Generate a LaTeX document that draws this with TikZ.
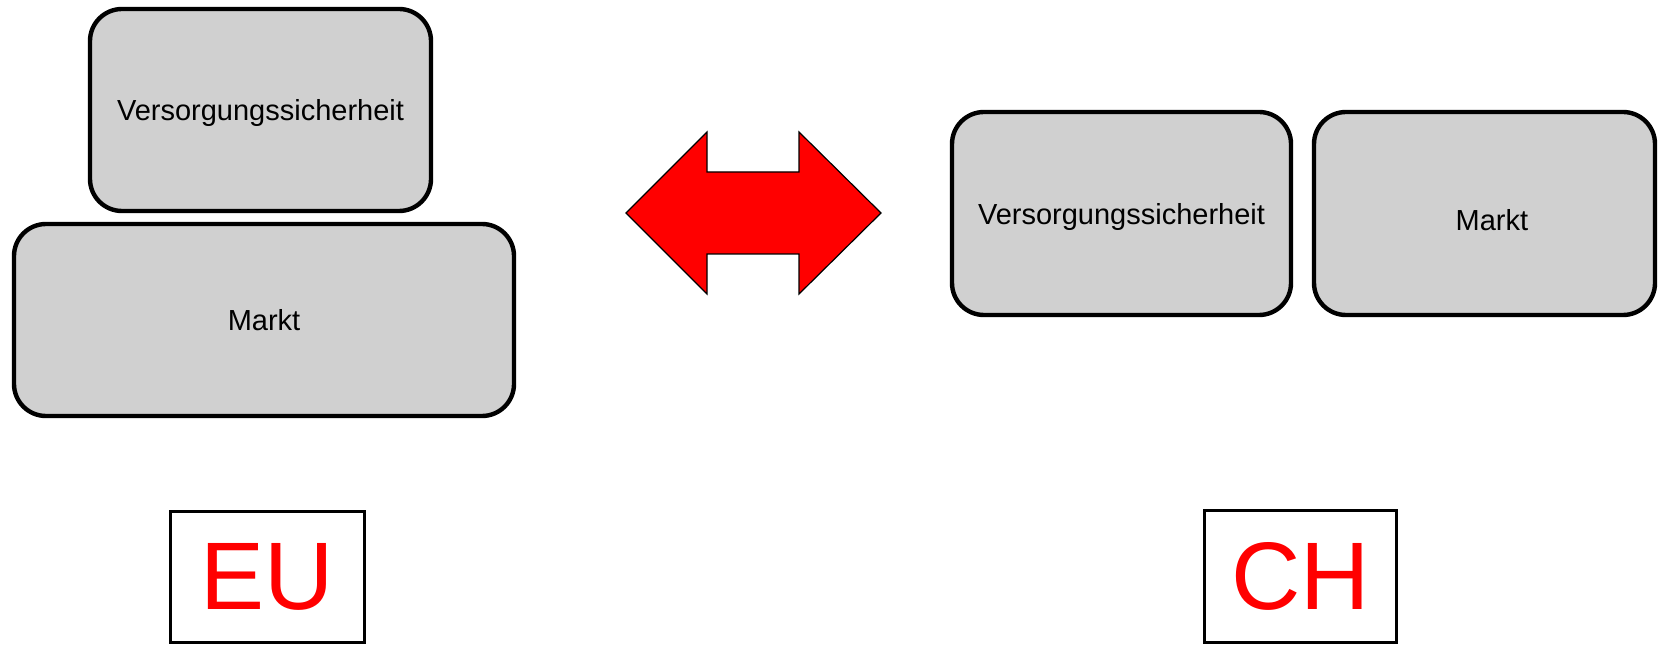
\documentclass[tikz,border=0pt]{standalone}
\usepackage{fontspec}
\setmainfont{Liberation Sans}
\usetikzlibrary{positioning}
\definecolor{boxgray}{RGB}{208,208,208}

\begin{document}
\begin{tikzpicture}[x=0.5pt, y=-0.5pt, very thick]
	\tikzstyle{all nodes}=[shape=rectangle]
	\tikzstyle{block}=[draw, line width=2.2pt, fill=boxgray, rounded corners=16pt,
		inner sep=0pt, font=\fontsize{14.5}{17}\selectfont]
	\tikzstyle{region}=[draw, line width=1.9pt, fill=white, inner sep=0pt,
		text=red, font=\fontsize{48}{56}\selectfont]
	\tikzstyle{exchange}=[draw, line width=0.6pt, fill=red, line join=miter]
	\useasboundingbox (0,0) rectangle (1664,646);
	% % Nodes
	% EU side
	\node[block, minimum width=170.5pt, minimum height=101pt] (euvers) at (260.5,110)
	{\raisebox{0pt}[\height][0pt]{Versorgungssicherheit}};
	\node[block, below=4.3pt of euvers, xshift=1.75pt,
		  minimum width=250pt, minimum height=96pt] (eumarkt)
	{Markt};
	\node[region, below=45.7pt of eumarkt, xshift=1.75pt,
		  minimum width=97pt, minimum height=65.5pt] (eu)
	{EU};
	% CH side
	\node[block, minimum width=169.5pt, minimum height=101.5pt] (chvers) at (1121.5,213.5)
	{\raisebox{0pt}[\height][0pt]{Versorgungssicherheit}};
	\node[block, right=9.3pt of chvers,
		  minimum width=170.5pt, minimum height=101.5pt,
		  label={[font=\fontsize{14.5}{17}\selectfont, xshift=3.7pt, yshift=-3.2pt]center:Markt}]
	(chmarkt) {};
	\node[region, minimum width=96pt, minimum height=66pt] (ch) at (1300.5,576.5)
	{CH};
	% % Double arrow
	\draw[exchange] (626,213) -- (707,132) -- (707,172) -- (799,172) -- (799,132)
		-- (881,213) -- (799,294) -- (799,254) -- (707,254) -- (707,294) -- cycle;
\end{tikzpicture}
\end{document}
